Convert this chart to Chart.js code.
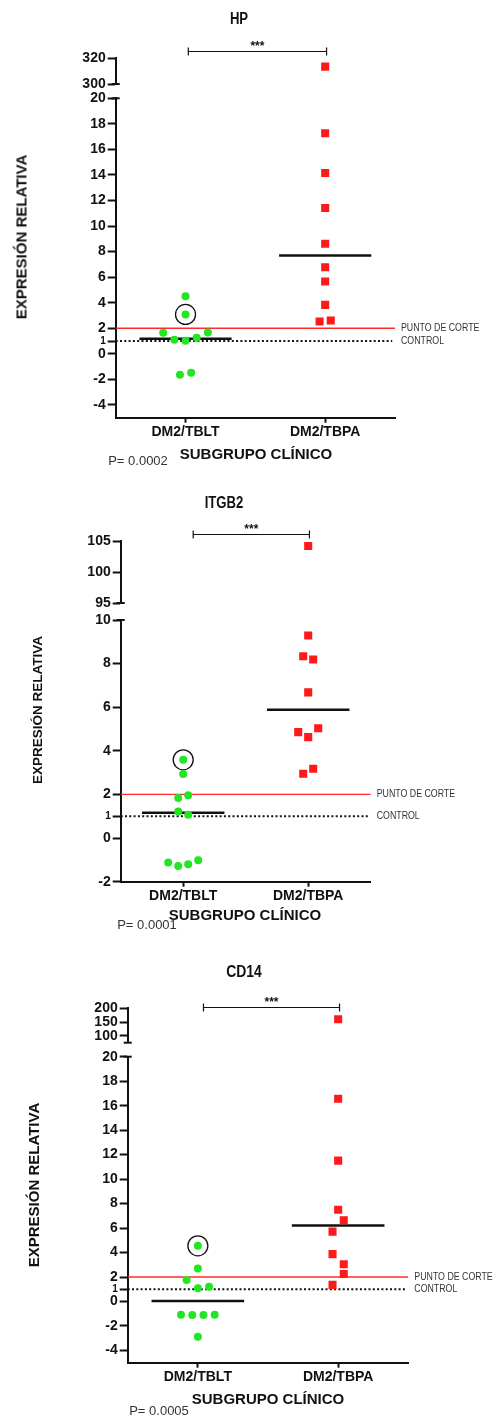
<!DOCTYPE html>
<html>
<head>
<meta charset="utf-8">
<script src="https://cdn.jsdelivr.net/npm/chart.js@4.4.1/dist/chart.umd.min.js"></script>
<style>
  body{margin:0;background:#fff;width:495px;height:1418px;position:relative;overflow:hidden;font-family:"Liberation Sans",Arial,sans-serif;color:#111;}
  .panel{position:absolute;left:0;width:495px;}
  .panel canvas{position:absolute;left:0;top:0;}
  .t{position:absolute;white-space:nowrap;}
  .title{font-weight:bold;font-size:16px;transform:translate(-50%,-50%) scaleX(0.82);}
  .ytitle{font-weight:bold;font-size:15px;transform:translate(-50%,-50%) rotate(-90deg);}
  .xtitle{font-weight:bold;font-size:15px;transform:translate(-50%,-50%);}
  .pval{font-size:13px;color:#333;transform:translate(-50%,-50%);}
</style>
</head>
<body>

<div class="panel" style="top:0;height:475px"><canvas id="hp" width="495" height="475"></canvas></div>
<div class="panel" style="top:475px;height:465px"><canvas id="itgb2" width="495" height="465"></canvas></div>
<div class="panel" style="top:940px;height:478px"><canvas id="cd14" width="495" height="478"></canvas></div>

<div class="t title" style="left:239px;top:19px">HP</div>
<div class="t ytitle" style="left:21px;top:237px">EXPRESIÓN RELATIVA</div>
<div class="t xtitle" style="left:256px;top:453px">SUBGRUPO CLÍNICO</div>
<div class="t pval" style="left:138px;top:460px">P= 0.0002</div>

<div class="t title" style="left:224px;top:503px">ITGB2</div>
<div class="t ytitle" style="left:37px;top:710px;font-size:13.5px">EXPRESIÓN RELATIVA</div>
<div class="t xtitle" style="left:245px;top:914px">SUBGRUPO CLÍNICO</div>
<div class="t pval" style="left:147px;top:924px">P= 0.0001</div>

<div class="t title" style="left:244px;top:972px;font-size:17px">CD14</div>
<div class="t ytitle" style="left:33px;top:1185px">EXPRESIÓN RELATIVA</div>
<div class="t xtitle" style="left:268px;top:1398px">SUBGRUPO CLÍNICO</div>
<div class="t pval" style="left:159px;top:1410px">P= 0.0005</div>

<script>
// groups on the x axis and the two reference levels
const groups = ['DM2/TBLT', 'DM2/TBPA'];
const cutoff = 2;   // PUNTO DE CORTE
const control = 1;  // CONTROL

// --- HP ---
const hpTicksTop = [300, 320];
const hpTicksLow = [-4, -2, 0, 1, 2, 4, 6, 8, 10, 12, 14, 16, 18, 20];
const hpGreenX = [1, 1, 0.84, 1.16, 0.92, 1, 1.08, 0.96, 1.04];
const hpGreenY = [4.51, 3.08, 1.64, 1.66, 1.10, 1.02, 1.25, -1.64, -1.49];
const hpRedX = [2, 2, 2, 2, 2, 2, 2, 1.96, 2.04];
const hpRedY = [17.27, 14.16, 11.42, 8.61, 6.78, 5.66, 3.83, 2.53, 2.61];
const hpRedHighX = [2];
const hpRedHighY = [313.5];
const hpMedian = [1.17, 7.69];
const hpCircled = 1;          // index of the circled green point
const hpBracketX = [1.02, 2.01];
const hpBracketY = 325.9;

// --- ITGB2 ---
const itTicksTop = [95, 100, 105];
const itTicksLow = [-2, 0, 1, 2, 4, 6, 8, 10];
const itGreenX = [1, 1, 0.96, 1.04, 0.96, 1.04, 0.88, 0.96, 1.04, 1.12];
const itGreenY = [3.59, 2.94, 1.84, 1.96, 1.22, 1.07, -1.12, -1.28, -1.20, -1.02];
const itRedX = [2, 1.96, 2.04, 2, 1.92, 2, 2.08, 1.96, 2.04];
const itRedY = [9.29, 8.34, 8.19, 6.68, 4.86, 4.63, 5.04, 2.95, 3.18];
const itRedHighX = [2];
const itRedHighY = [104.2];
const itMedian = [1.16, 5.88];
const itCircled = 0;
const itBracketX = [1.08, 2.01];
const itBracketY = 106.1;

// --- CD14 ---
const cdTicksTop = [100, 150, 200];
const cdTicksLow = [-4, -2, 0, 1, 2, 4, 6, 8, 10, 12, 14, 16, 18, 20];
const cdGreenX = [1, 1, 0.92, 1, 1.08, 0.88, 0.96, 1.04, 1.12, 1];
const cdGreenY = [4.55, 2.70, 1.75, 1.09, 1.20, -1.09, -1.10, -1.10, -1.09, -2.88];
const cdRedX = [2, 2, 2, 2.04, 1.96, 1.96, 2.04, 2.04, 1.96];
const cdRedY = [16.57, 11.51, 7.49, 6.64, 5.71, 3.87, 3.05, 2.24, 1.36];
const cdRedHighX = [2];
const cdRedHighY = [160];
const cdMedian = [0.05, 6.2];
const cdCircled = 0;
const cdBracketX = [1.04, 2.01];
const cdBracketY = 205.8;

const GREEN = '#22e622', RED = '#ff1a1a', INK = '#111';
const AXIS_W = 60, AXIS_H = 30;   // room kept for tick labels

function pts(xs, ys){ return xs.map((x, i) => ({x: x, y: ys[i]})); }

// axis break caps, significance bracket, reference line labels
const decor = {
  id: 'decor',
  afterDraw(chart, args, o){
    const {ctx, chartArea: a, scales} = chart;
    const x = scales.x, top = scales.yTop, bot = scales.yBot;
    ctx.save();
    ctx.strokeStyle = INK; ctx.fillStyle = INK;
    ctx.lineWidth = 2;
    [top.bottom, bot.top].forEach(py => {
      ctx.beginPath(); ctx.moveTo(a.left - 4, py); ctx.lineTo(a.left + 4, py); ctx.stroke();
    });
    const by = Math.round(top.getPixelForValue(o.bracketY)) + 0.5;
    const bx1 = x.getPixelForValue(o.bracketX[0]), bx2 = x.getPixelForValue(o.bracketX[1]);
    ctx.lineWidth = 1.2;
    ctx.beginPath();
    ctx.moveTo(bx1, by); ctx.lineTo(bx2, by);
    ctx.moveTo(bx1, by - 4); ctx.lineTo(bx1, by + 4);
    ctx.moveTo(bx2, by - 4); ctx.lineTo(bx2, by + 4);
    ctx.stroke();
    ctx.font = 'bold 12px "Liberation Sans"';
    ctx.textAlign = 'center'; ctx.textBaseline = 'alphabetic';
    ctx.fillText('***', (bx1 + bx2) / 2, by - 1.5);
    ctx.font = '11px "Liberation Sans"';
    ctx.textAlign = 'left'; ctx.textBaseline = 'middle'; ctx.fillStyle = '#333';
    [[cutoff, 'PUNTO DE CORTE'], [control, 'CONTROL']].forEach(([v, s]) => {
      ctx.save();
      ctx.translate(a.right + 6, bot.getPixelForValue(v));
      ctx.scale(0.8, 1);
      ctx.fillText(s, 0, 0);
      ctx.restore();
    });
    ctx.restore();
  }
};

function yAxis(min, max, ticks, weight){
  return {
    type: 'linear', position: 'left', stack: 'y', stackWeight: weight,
    min: min, max: max,
    afterBuildTicks: s => { s.ticks = ticks.map(v => ({value: v})); },
    afterFit: s => { s.width = AXIS_W; },
    grid: {drawOnChartArea: false, drawTicks: true, tickLength: 8, tickColor: INK, tickWidth: 2},
    border: {color: INK, width: 2},
    ticks: {
      color: INK, padding: 2, autoSkip: false,
      font: c => ({family: '"Liberation Sans"', weight: 'bold', size: c.tick && c.tick.value === 1 ? 10 : 14})
    }
  };
}

function makePanel(p){
  const ds = [];
  ds.push({data: pts(p.greenX, p.greenY), yAxisID: 'yBot', pointStyle: 'circle', pointRadius: 4,
    backgroundColor: GREEN, borderWidth: 0});
  ds.push({data: pts(p.redX, p.redY), yAxisID: 'yBot', pointStyle: 'rect', pointRadius: 5.7,
    backgroundColor: RED, borderWidth: 0});
  ds.push({data: pts(p.redHighX, p.redHighY), yAxisID: 'yTop', pointStyle: 'rect', pointRadius: 5.7,
    backgroundColor: RED, borderWidth: 0});
  ds.push({data: [{x: p.greenX[p.circled], y: p.greenY[p.circled]}], yAxisID: 'yBot', pointStyle: 'circle',
    pointRadius: 10, backgroundColor: 'rgba(0,0,0,0)', borderColor: INK, borderWidth: 1.3});
  p.median.forEach((m, i) => {
    ds.push({data: [{x: i + 1 - 0.33, y: m}, {x: i + 1 + 0.33, y: m}], yAxisID: 'yBot', showLine: true,
      pointRadius: 0, borderColor: INK, borderWidth: 2.5});
  });
  ds.push({data: [{x: 0.5, y: cutoff}, {x: 2.5, y: cutoff}], yAxisID: 'yBot', showLine: true,
    pointRadius: 0, borderColor: '#ff2a2a', borderWidth: 1.3});
  ds.push({data: [{x: 0.5, y: control}, {x: 2.48, y: control}], yAxisID: 'yBot', showLine: true,
    pointRadius: 0, borderColor: INK, borderWidth: 2, borderDash: [2, 2.3]});

  const a = p.area;
  new Chart(document.getElementById(p.id), {
    type: 'scatter',
    data: {datasets: ds},
    options: {
      responsive: false, animation: false, devicePixelRatio: 1,
      layout: {padding: {left: a.left - AXIS_W, top: a.top, right: 495 - a.right, bottom: p.height - a.bottom - AXIS_H}},
      plugins: {legend: {display: false}, tooltip: {enabled: false},
        decor: {bracketX: p.bracketX, bracketY: p.bracketY}},
      scales: {
        x: {
          type: 'linear', position: 'bottom', min: 0.5, max: 2.5,
          afterBuildTicks: s => { s.ticks = groups.map((g, i) => ({value: i + 1})); },
          afterFit: s => { s.height = AXIS_H; },
          grid: {drawOnChartArea: false, drawTicks: true, tickLength: 5, tickColor: INK, tickWidth: 2},
          border: {color: INK, width: 2},
          ticks: {color: INK, padding: 1, maxRotation: 0, autoSkip: false,
            font: {family: '"Liberation Sans"', weight: 'bold', size: 14},
            callback: v => groups[Math.round(v) - 1]}
        },
        // stacked scales are laid out bottom-up in definition order
        yBot: yAxis(p.low[0], p.low[1], p.ticksLow, p.weights[2]),
        yGap: {type: 'linear', position: 'left', stack: 'y', stackWeight: p.weights[1], min: 0, max: 1,
          afterFit: s => { s.width = AXIS_W; },
          grid: {display: false}, border: {display: false}, ticks: {display: false}},
        yTop: yAxis(p.top[0], p.top[1], p.ticksTop, p.weights[0])
      }
    },
    plugins: [decor]
  });
}

makePanel({id: 'hp', height: 475, area: {left: 115.7, right: 395, top: 58.3, bottom: 417.7},
  weights: [25.7, 14.3, 319.4], top: [300, 320], low: [-5, 20], ticksTop: hpTicksTop, ticksLow: hpTicksLow,
  greenX: hpGreenX, greenY: hpGreenY, redX: hpRedX, redY: hpRedY, redHighX: hpRedHighX, redHighY: hpRedHighY,
  median: hpMedian, circled: hpCircled, bracketX: hpBracketX, bracketY: hpBracketY});

makePanel({id: 'itgb2', height: 465, area: {left: 120.7, right: 370.7, top: 66, bottom: 406.7},
  weights: [62, 17, 261.7], top: [95, 105], low: [-2, 10], ticksTop: itTicksTop, ticksLow: itTicksLow,
  greenX: itGreenX, greenY: itGreenY, redX: itRedX, redY: itRedY, redHighX: itRedHighX, redHighY: itRedHighY,
  median: itMedian, circled: itCircled, bracketX: itBracketX, bracketY: itBracketY});

makePanel({id: 'cd14', height: 478, area: {left: 127.7, right: 408.3, top: 68.3, bottom: 422.7},
  weights: [34.4, 14, 306], top: [75, 200], low: [-5, 20], ticksTop: cdTicksTop, ticksLow: cdTicksLow,
  greenX: cdGreenX, greenY: cdGreenY, redX: cdRedX, redY: cdRedY, redHighX: cdRedHighX, redHighY: cdRedHighY,
  median: cdMedian, circled: cdCircled, bracketX: cdBracketX, bracketY: cdBracketY});
</script>
</body>
</html>
